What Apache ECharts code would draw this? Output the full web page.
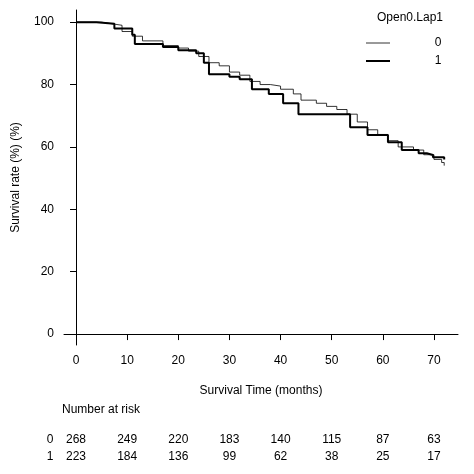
<!DOCTYPE html><html><head><meta charset="utf-8"><script src="https://cdn.jsdelivr.net/npm/echarts@6/dist/echarts.min.js"></script></head><body style="margin:0"><div id="c" style="width:474px;height:474px"></div><script>
const time0=[0,5,7,9,11,13,17,20,22,24,26,28,30,32,34,36,38,40,42.5,44,47,49,51,53,55,57,59,61,63,66,68,70,71.5,72];
const surv0=[100,99.5,99,97,95.5,94,92.5,91.7,90.7,89,87,86,84,83,81,80,79.5,78.5,77,75,74,73,72,70.5,68,65.5,64,62,60,59,57.5,56,55,54];
const time1=[0,4,7.5,11,11.5,17,20,23.5,25,26,30,32,34.4,37.7,40.5,43.5,53.6,57,61,63.7,67,68.6,69.8,72];
const surv1=[100,99.5,98,96,93,92,91,90,87,83.3,82.5,81.7,78.5,77,74,70.5,66.3,63.8,61.5,59,58,57.4,56.7,56];
const riskTimes=[0,10,20,30,40,50,60,70];
const risk0=[268,249,220,183,140,115,87,63];
const risk1=[223,184,136,99,62,38,25,17];
const groups=['0','1'];
const ch=echarts.init(document.getElementById('c'));
const f='Arial, Liberation Sans, sans-serif';
const gl={left:64,right:16,top:10,bottom:129};
const xmin=-2.35,xmax=74.7;
const xpx=m=>gl.left+(m-xmin)/(xmax-xmin)*(474-gl.left-gl.right);
const gr=[];
gr.push({type:'text',left:62,top:404,style:{text:'Number at risk',font:'12px '+f,fill:'#000'}});
[[risk0,440],[risk1,457]].forEach((r,i)=>{
 gr.push({type:'text',x:50,y:r[1],style:{text:groups[i],font:'12px '+f,fill:'#000',align:'center',verticalAlign:'middle'}});
 r[0].forEach((v,j)=>gr.push({type:'text',x:xpx(riskTimes[j]),y:r[1],style:{text:String(v),font:'12px '+f,fill:'#000',align:'center',verticalAlign:'middle'}}));
});
gr.push({type:'text',x:410,y:18,style:{text:'Open0.Lap1',font:'12px '+f,fill:'#000',align:'center',verticalAlign:'middle'}});
gr.push({type:'line',shape:{x1:366,y1:43,x2:390,y2:43},style:{stroke:'#000',lineWidth:0.8}});
gr.push({type:'line',shape:{x1:366,y1:61,x2:390,y2:61},style:{stroke:'#000',lineWidth:2}});
gr.push({type:'text',x:438,y:43,style:{text:'0',font:'12px '+f,fill:'#000',align:'center',verticalAlign:'middle'}});
gr.push({type:'text',x:438,y:61,style:{text:'1',font:'12px '+f,fill:'#000',align:'center',verticalAlign:'middle'}});
ch.setOption({animation:false,grid:gl,graphic:gr,
xAxis:{type:'value',min:xmin,max:xmax,name:'Survival Time (months)',nameLocation:'middle',nameGap:40,nameTextStyle:{fontFamily:f,fontSize:12,color:'#000'},
 axisLine:{lineStyle:{color:'#000'}},splitLine:{show:false},axisTick:{customValues:riskTimes,length:6,lineStyle:{color:'#000'}},
 axisLabel:{customValues:riskTimes,fontFamily:f,fontSize:12,color:'#000',margin:10}},
yAxis:{type:'value',min:-3.5,max:103.9,name:'Survival rate (%) (%)',nameLocation:'middle',nameGap:42,nameTextStyle:{fontFamily:f,fontSize:12,color:'#000'},
 axisLine:{show:true,lineStyle:{color:'#000'}},splitLine:{show:false},axisTick:{show:true,customValues:[0,20,40,60,80,100],length:6,lineStyle:{color:'#000'}},
 axisLabel:{customValues:[0,20,40,60,80,100],fontFamily:f,fontSize:12,color:'#000',margin:10}},
series:[
{type:'line',step:'end',symbol:'none',data:time0.map((t,i)=>[t,surv0[i]]),lineStyle:{color:'#000',width:0.8}},
{type:'line',step:'end',symbol:'none',data:time1.map((t,i)=>[t,surv1[i]]),lineStyle:{color:'#000',width:2}}]});
</script></body></html>
